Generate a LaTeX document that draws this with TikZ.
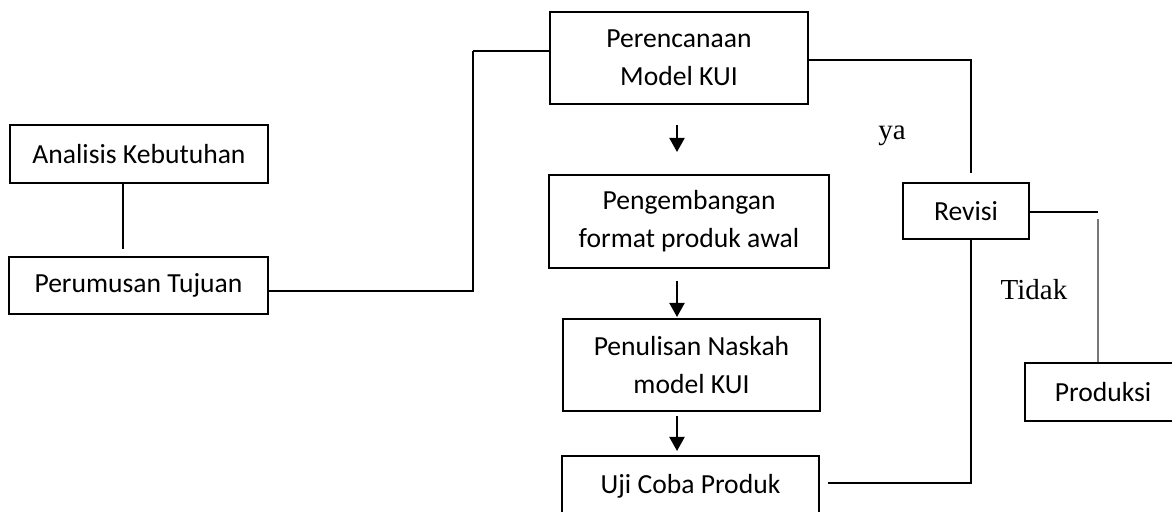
\documentclass[tikz,border=0pt]{standalone}
\usepackage{fontspec}
\setmainfont{Carlito}
\newfontfamily\tmsfont{Liberation Serif}
\usetikzlibrary{arrows.meta}

\definecolor{lngray}{RGB}{120, 120, 120}

\begin{document}
\begin{tikzpicture}[
    x=0.5pt, y=-0.5pt,
    font=\fontsize{13.8}{19}\selectfont,
    box/.style={draw=black, line width=1pt, align=center, inner sep=0pt},
    link/.style={draw=black, line width=0.6pt},
    arr/.style={draw=black, line width=1pt, -{Triangle[length=7pt, width=7.5pt]}},
    lbl/.style={font=\tmsfont\fontsize{14.5}{18}\selectfont},
  ]
    \useasboundingbox (0, 0) rectangle (1172, 512);

    % --- left column
    \node[box, minimum width=129pt, minimum height=29pt] (analisis) at (139, 154) {Analisis Kebutuhan};
    \node[box, minimum width=129.5pt, minimum height=28.5pt] (perumusan) at (138.5, 285.5) {Perumusan Tujuan};

    % --- middle column
    \node[box, minimum width=129pt, minimum height=46pt] (perencanaan) at (679, 58) {Perencanaan\\Model KUI};
    \node[box, minimum width=140pt, minimum height=46.5pt] (pengembangan) at (689, 221.5) {Pengembangan\\format produk awal};
    \node[box, minimum width=128.5pt, minimum height=46pt] (penulisan) at (691.5, 365) {Penulisan Naskah\\model KUI};
    \node[box, minimum width=128.5pt, minimum height=30pt] (uji) at (690.5, 486) {Uji Coba Produk};

    % --- right column
    \node[box, minimum width=63pt, minimum height=28pt] (revisi) at (966, 211) {Revisi};
    \node[box, minimum width=78pt, minimum height=29pt] (produksi) at (1103, 392) {Produksi};

    \node[lbl] (ya) at (892, 136) {ya};
    \node[lbl] (tidak) at (1034, 290) {Tidak};

    % --- free ends and corners
    \coordinate (k1) at (123, 249);
    \coordinate (j1) at (473, 291);
    \coordinate (j2) at (473, 51);
    \coordinate (r1) at (971, 60);
    \coordinate (r2) at (971, 173);
    \coordinate (t1) at (1098, 212);
    \coordinate (t2) at (1098, 219);
    \coordinate (u1) at (971, 483);
    \coordinate (u2) at (828, 483);

    \draw[link, line width=0.9pt] (analisis.south -| k1) -- (k1);
    \draw[link, line width=0.9pt] (perumusan.east |- j1) -- (j1) -- (j2);
    \draw[link] (j2) -- (j2 -| perencanaan.west);
    \draw[link] (perencanaan.east |- r1) -- (r1) -- (r2);
    \draw[link] (revisi.east |- t1) -- (t1);
    \draw[link, draw=lngray] (t2) -- (t2 |- produksi.north);
    \draw[link] (revisi.south -| u1) -- (u1) -- (u2);

    % --- arrows down the middle
    \draw[arr, shorten <=10, shorten >=11] ([xshift=-1pt]perencanaan.south) -- ([xshift=-1pt]perencanaan.south |- pengembangan.north);
    \draw[arr, shorten <=6, shorten >=0.5] ([xshift=-1pt]perencanaan.south |- pengembangan.south) -- ([xshift=-1pt]perencanaan.south |- penulisan.north);
    \draw[arr, shorten <=2, shorten >=2] ([xshift=-1pt]perencanaan.south |- penulisan.south) -- ([xshift=-1pt]perencanaan.south |- uji.north);
  \end{tikzpicture}
\end{document}
